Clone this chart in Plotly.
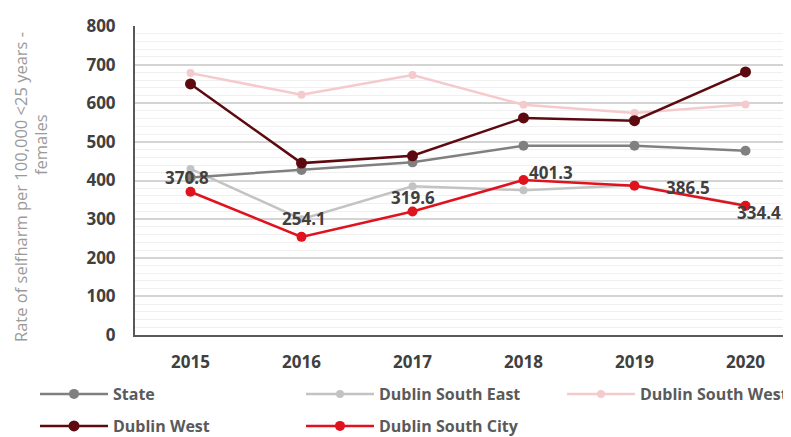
import plotly.graph_objects as go

years = ["2015", "2016", "2017", "2018", "2019", "2020"]
state = [408, 427, 447, 490, 490, 477]
dublin_south_east = [430, 300, 385, 375, 388, 336]
dublin_south_west = [678, 622, 673, 596, 575, 597]
dublin_west = [650, 445, 464, 562, 555, 681]
dublin_south_city = [370.8, 254.1, 319.6, 401.3, 386.5, 334.4]

label_shifts = [(-4, 14), (2, 18), (0, 14), (28, 8), (54, -2), (14, -7)]

FONT = "Open Sans"
OFF = 8  # page body margin offset
W, H = 791 - OFF, 437 - OFF
L, R, T, B = 135 - OFF, 0, 26 - OFF, 102
PW, PH = W - L - R, H - T - B


def px2paper(px, py):
    return (px - OFF - L) / PW, (H - B - (py - OFF)) / PH


def px2cont(px, py):
    return (px - OFF) / W, 1 - (py - OFF) / H


fig = go.Figure()

series = [
    ("Dublin South West", dublin_south_west, "#f5cacc", 2.5, 8, "legend3", 3),
    ("Dublin South East", dublin_south_east, "#c3c3c3", 2.5, 8, "legend", 2),
    ("State", state, "#808080", 2.5, 10, "legend", 1),
    ("Dublin West", dublin_west, "#5c0a10", 2.5, 11, "legend2", 4),
    ("Dublin South City", dublin_south_city, "#e0121e", 2.5, 10, "legend2", 5),
]
for name, vals, color, lw, ms, leg, rank in series:
    fig.add_trace(go.Scatter(
        x=years, y=vals, name=name, mode="lines+markers",
        line=dict(color=color, width=lw),
        marker=dict(color=color, size=ms, symbol="circle"),
        legend=leg, legendrank=rank,
    ))

for i, (v, (dx, dy)) in enumerate(zip(dublin_south_city, label_shifts)):
    fig.add_annotation(x=i, y=v, xref="x", yref="y", text=f"{v:.1f}", showarrow=False,
                       xshift=dx, yshift=dy,
                       font=dict(family=FONT, size=17, color="#404040", weight="bold"))

ax, ay = px2paper(20, 187)
fig.add_annotation(xref="paper", yref="paper", x=ax, y=ay,
                   text="Rate of selfharm per 100,000 <25 years -", textangle=-90,
                   showarrow=False, xanchor="center", yanchor="middle",
                   font=dict(family=FONT, size=16.5, color="#9a9a9a"))
ax, ay = px2paper(40, 145)
fig.add_annotation(xref="paper", yref="paper", x=ax, y=ay,
                   text="females", textangle=-90,
                   showarrow=False, xanchor="center", yanchor="middle",
                   font=dict(family=FONT, size=16.5, color="#9a9a9a"))

legend_common = dict(
    orientation="h", xref="container", yref="container",
    xanchor="left", yanchor="middle", entrywidth=183,
    font=dict(family=FONT, size=16, color="#5a5a5a", weight="bold"),
    bgcolor="rgba(0,0,0,0)", itemwidth=68,
)
lx1, ly1 = px2cont(35, 394)
lx2, ly2 = px2cont(35, 426)
lx3, _ = px2cont(562, 394)

fig.update_layout(
    width=W, height=H,
    margin=dict(l=L, r=R, t=T, b=B, autoexpand=False),
    paper_bgcolor="white", plot_bgcolor="white",
    font=dict(family=FONT),
    legend=dict(x=lx1, y=ly1, **legend_common),
    legend2=dict(x=lx2, y=ly2, **legend_common),
    legend3=dict(x=lx3, y=ly1, **legend_common),
    xaxis=dict(
        type="category", range=[-0.5, 5.41],
        showline=True, linecolor="#595959", linewidth=2,
        showgrid=False, ticks="", ticklabelstandoff=11,
        tickfont=dict(family=FONT, size=17, color="#404040", weight="bold"),
    ),
    yaxis=dict(
        range=[0, 800], dtick=100, tick0=0,
        showline=True, linecolor="#595959", linewidth=2,
        showgrid=True, gridcolor="#d4d4d4", gridwidth=1.5,
        minor=dict(dtick=20, showgrid=True, gridcolor="#f0f0f0", gridwidth=1),
        zeroline=False, ticks="", ticklabelstandoff=14,
        tickfont=dict(family=FONT, size=17, color="#404040", weight="bold"),
    ),
)

fig.write_html("out.html")
